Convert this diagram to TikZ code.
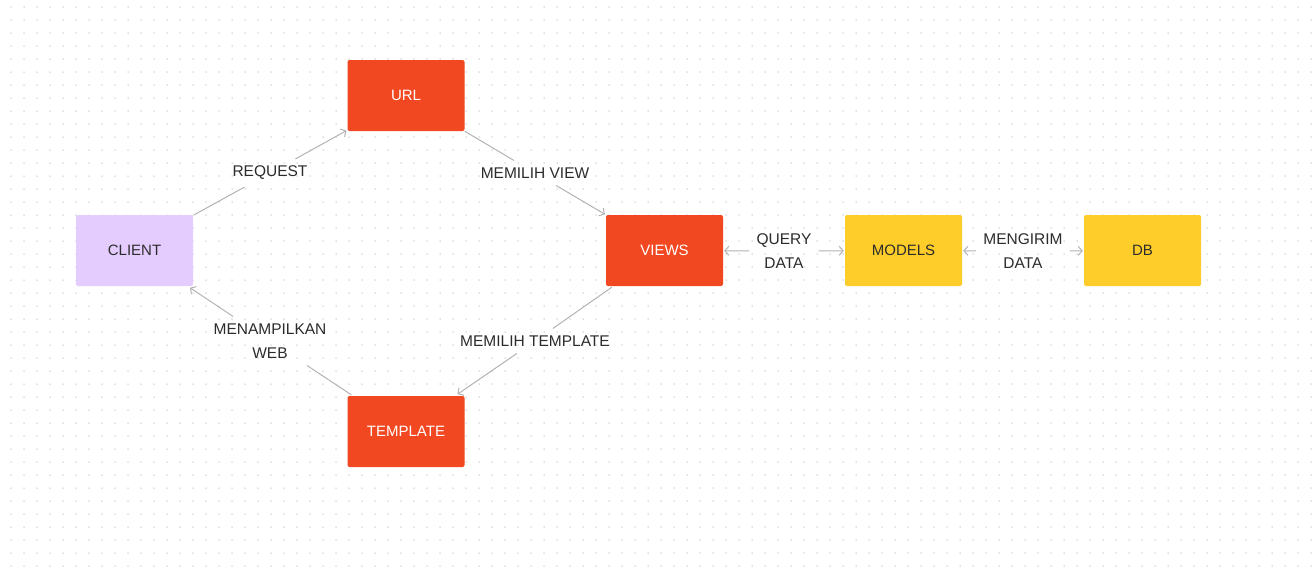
\documentclass[tikz,border=0pt]{standalone}
\usepackage{fontspec}
\setmainfont{Liberation Sans}
\usetikzlibrary{arrows.meta,calc}
\definecolor{redbox}{HTML}{F24822}
\definecolor{yellowbox}{HTML}{FFCD29}
\definecolor{lilac}{HTML}{E4CCFF}
\definecolor{txt}{HTML}{2C2C2C}
\definecolor{conn}{HTML}{B3B3B3}
\definecolor{dotc}{HTML}{C6C6C6}
\begin{document}
\begin{tikzpicture}[x=1pt,y=-1pt,
 box/.style={minimum width=117pt,minimum height=71pt,rounded corners=2pt,inner sep=0pt,font=\fontsize{15}{18}\selectfont},
 redb/.style={box,fill=redbox,text=white},
 yelb/.style={box,fill=yellowbox,text=txt},
 lilb/.style={box,fill=lilac,text=txt},
 lbl/.style={font=\fontsize{15.5}{24}\selectfont,text=txt,inner sep=7pt,align=center},
 link/.style={draw=conn,line width=1pt,shorten >=1pt,-{Straight Barb[length=4pt,width=9pt]}},
 plain/.style={draw=conn,line width=1pt}]
\useasboundingbox (0,0) rectangle (1313,570);
\fill[white] (0,0) rectangle (1313,570);
\foreach \i in {0,...,100}{
  \foreach \j in {0,...,43}{
    \fill[dotc] (11+13*\i,7+13*\j) circle (0.75pt);
  }
}
\node[redb] (url) at (406,95.5) {URL};
\node[lilb] (client) at (134.5,250.5) {CLIENT};
\node[redb] (views) at (664.5,250.5) {VIEWS};
\node[yelb] (models) at (903.5,250.5) {MODELS};
\node[yelb] (db) at (1142.5,250.5) {DB};
\node[redb] (template) at (406,431.5) {TEMPLATE};

\node[lbl] (lreq) at (270,173) {REQUEST};
\node[lbl] (lview) at (535,173) {MEMILIH VIEW};
\node[lbl] (ltpl) at (535,341) {MEMILIH TEMPLATE};
\node[lbl] (lweb) at (270,341) {MENAMPILKAN\\WEB};
\node[lbl] (lqd) at (784,251) {QUERY\\DATA};
\node[lbl] (lmd) at (1023,251) {MENGIRIM\\DATA};

\coordinate (c1) at ($(client.north east)+(1,0)$);
\coordinate (u1) at ($(url.south west)+(0,-1)$);
\draw[plain] (c1) -- (lreq);
\draw[link] (lreq) -- (u1);

\coordinate (u2) at ($(url.south east)+(0,0)$);
\coordinate (v1) at ($(views.north west)+(0,0)$);
\draw[plain] (u2) -- (lview);
\draw[link] (lview) -- (v1);

\coordinate (v2) at ($(views.south west)+(6,1)$);
\coordinate (t1) at ($(template.north east)+(-8,-1)$);
\draw[plain] (v2) -- (ltpl);
\draw[link] (ltpl) -- (t1);

\coordinate (t2) at ($(template.north west)+(4,-1)$);
\coordinate (c2) at ($(client.south east)+(-4,1)$);
\draw[plain] (t2) -- (lweb);
\draw[link] (lweb) -- (c2);

\draw[link] (lqd) -- (views);
\draw[link] (lqd) -- (models);
\draw[link] (lmd) -- (models);
\draw[link] (lmd) -- (db);
\end{tikzpicture}
\end{document}
